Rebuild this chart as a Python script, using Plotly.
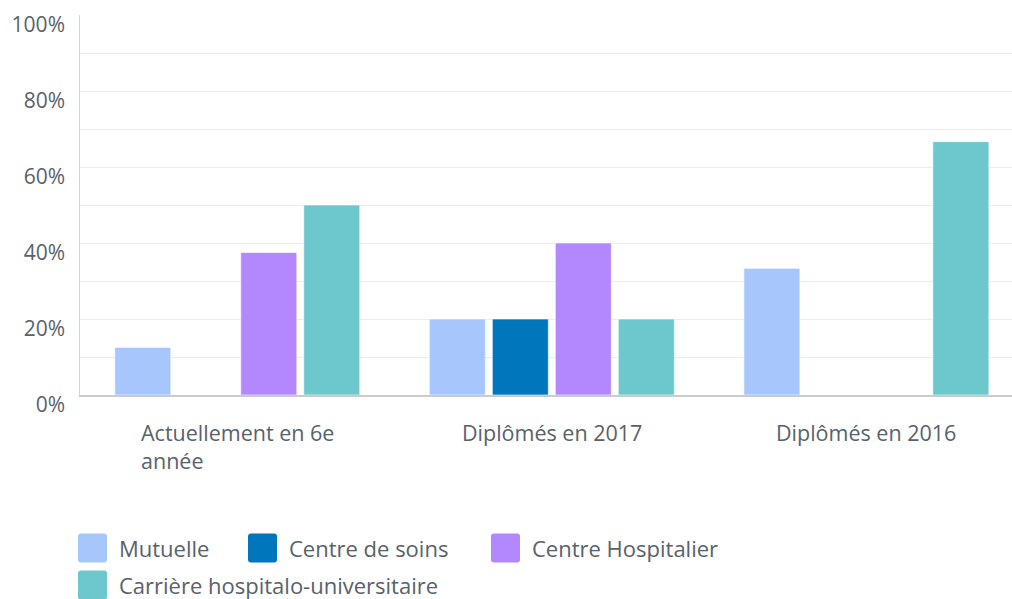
import plotly.graph_objects as go

categories = ["Actuellement en 6e<br>année", "Diplômés en 2017", "Diplômés en 2016"]
series_names = ["Mutuelle", "Centre de soins", "Centre Hospitalier", "Carrière hospitalo-universitaire"]
mutuelle = [12.5, 20.0, 33.33]
centre_soins = [0.0, 20.0, 0.0]
centre_hosp = [37.5, 40.0, 0.0]
carriere = [50.0, 20.0, 66.67]
series_values = [mutuelle, centre_soins, centre_hosp, carriere]
colors = ["#a6c6fc", "#0077bd", "#b388ff", "#6cc8cc"]
y_tick_vals = [0, 20, 40, 60, 80, 100]
y_tick_text = ["0%", "20%", "40%", "60%", "80%", "100%"]
grid_vals = [10, 20, 30, 40, 50, 60, 70, 80, 90]

W, H = 1012, 599
ML, MR, MT, MB = 80, 0, 15, 204
PW, PH = W - ML - MR, H - MT - MB
FONT = "Open Sans"
TXT = "#58626a"


def px_x(px):
    return (px - ML) / PW


def px_y(py):
    return (H - MB - py) / PH


fig = go.Figure()
for name, vals, col in zip(series_names, series_values, colors):
    fig.add_trace(go.Bar(
        name=name, x=categories, y=vals,
        marker=dict(color=col, line=dict(color="rgba(255,255,255,0.6)", width=1)),
        showlegend=False, hoverinfo="x+y+name",
    ))

# empty helper trace so that the label axis (y2) is rendered
fig.add_trace(go.Scatter(x=[categories[0]], y=[None], yaxis="y2",
                         showlegend=False, hoverinfo="skip", mode="markers"))

# category labels (left-aligned lines, centred block)
for cat in categories:
    fig.add_annotation(
        x=cat, xref="x", y=px_y(416), yref="paper", text=cat,
        showarrow=False, xanchor="center", yanchor="top", align="left",
        font=dict(family=FONT, size=21.5, color=TXT),
    )

# legend drawn as rounded swatches + labels
legend_pos = [(78, 548), (248, 548), (491, 548), (78, 585)]
sw = 29
r = 3
for (lx, cy), name, col in zip(legend_pos, series_names, colors):
    x0, x1 = px_x(lx), px_x(lx + sw)
    y0, y1 = px_y(cy + sw / 2), px_y(cy - sw / 2)
    rx, ry = r / PW, r / PH
    path = (f"M{x0+rx},{y0} L{x1-rx},{y0} Q{x1},{y0} {x1},{y0+ry} "
            f"L{x1},{y1-ry} Q{x1},{y1} {x1-rx},{y1} L{x0+rx},{y1} "
            f"Q{x0},{y1} {x0},{y1-ry} L{x0},{y0+ry} Q{x0},{y0} {x0+rx},{y0} Z")
    fig.add_shape(type="path", path=path, xref="paper", yref="paper",
                  fillcolor=col, line=dict(width=0), layer="above")
    fig.add_annotation(
        x=px_x(lx + sw + 10), xref="paper", y=px_y(cy), yref="paper",
        text=name, showarrow=False, xanchor="left", yanchor="middle",
        font=dict(family=FONT, size=22, color=TXT),
    )

fig.update_layout(
    width=W, height=H,
    margin=dict(l=ML, r=MR, t=MT, b=MB, pad=0),
    paper_bgcolor="white", plot_bgcolor="white",
    barmode="group", bargap=0.199, bargroupgap=0.111,
    font=dict(family=FONT, size=21, color=TXT),
    xaxis=dict(
        type="category", range=[-0.5, 2.463], showticklabels=False,
        showgrid=False, showline=True, linecolor="#cbcbcb", linewidth=2,
        ticks="", zeroline=False, fixedrange=True,
    ),
    yaxis=dict(
        range=[0, 100], tickmode="array", tickvals=grid_vals,
        showticklabels=False, showgrid=True, gridcolor="#ececec", gridwidth=1,
        showline=True, linecolor="#d4d4d4", linewidth=1, ticks="",
        zeroline=False, fixedrange=True,
    ),
    yaxis2=dict(
        overlaying="y", side="left", range=[0, 100], tickmode="array",
        tickvals=y_tick_vals, ticktext=y_tick_text, showgrid=False,
        showline=False, zeroline=False, ticks="",
        ticklabelposition="outside", ticklabelshift=10, ticklabelstandoff=14,
        tickfont=dict(family=FONT, size=21, color=TXT), fixedrange=True,
    ),
)

fig.write_html(
    "out.html",
    config={"displayModeBar": False},
    post_script="document.body.style.margin='0';document.body.style.overflow='hidden';",
)
